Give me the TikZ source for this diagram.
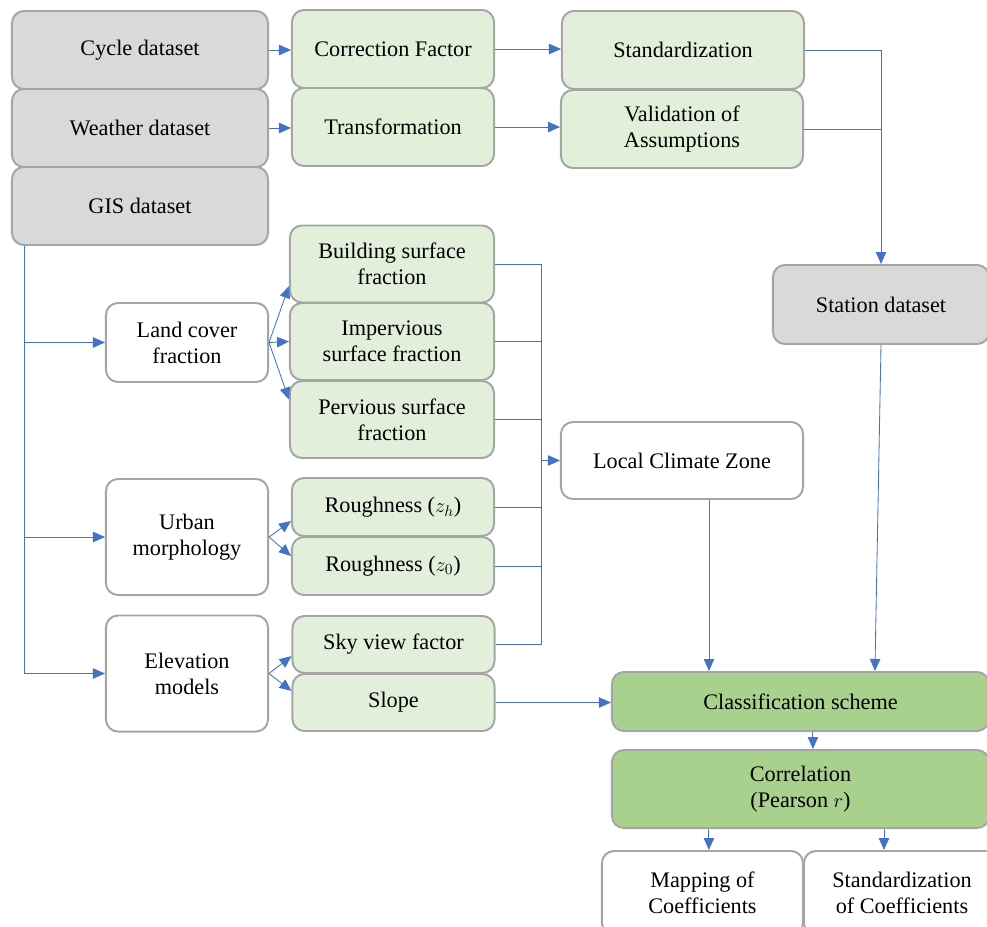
\documentclass[tikz,border=0pt]{standalone}
\usepackage{fontspec}
\setmainfont{Liberation Serif}
\usetikzlibrary{arrows.meta}
\definecolor{boxgray}{HTML}{D9D9D9}
\definecolor{lightgreen}{HTML}{E2EFDA}
\definecolor{darkgreen}{HTML}{A9D18E}
\definecolor{edgegray}{HTML}{A5A5A5}
\definecolor{linkblue}{HTML}{4472C4}

\begin{document}
\begin{tikzpicture}[x=0.025cm, y=-0.025cm,
  box/.style={draw=edgegray, line width=1.4pt, rounded corners=0.3cm, align=center,
    inner sep=2pt, font=\fontsize{15.8}{18.5}\selectfont},
  data/.style={box, fill=boxgray},
  proc/.style={box, fill=lightgreen},
  result/.style={box, fill=darkgreen},
  plain/.style={box, fill=white},
  link/.style={draw=linkblue, line width=0.6pt},
  arr/.style={link, -{Triangle[length=3mm,width=2.6mm]}}]
  \clip (0,0) rectangle (987,927);

  % input datasets
  \node[data, minimum width=6.4cm, minimum height=1.95cm] (cycle) at (140,50) {Cycle dataset};
  \node[data, minimum width=6.4cm, minimum height=1.95cm] (weather) at (140,128) {Weather dataset};
  \node[data, minimum width=6.4cm, minimum height=1.95cm] (gis) at (140,206) {GIS dataset};

  % station branch
  \node[proc, minimum width=5.05cm, minimum height=1.95cm] (corrfac) at (393,49) {Correction Factor};
  \node[proc, minimum width=5.05cm, minimum height=1.95cm] (transf) at (393,127) {Transformation};
  \node[proc, minimum width=6.05cm, minimum height=1.95cm] (standard) at (683,50) {Standardization};
  \node[proc, minimum width=6.05cm, minimum height=1.95cm] (valid) at (682,129) {Validation of\\Assumptions};
  \node[data, minimum width=5.4cm, minimum height=1.975cm] (station) at (881,304.5) {Station dataset};

  % GIS branch
  \node[plain, minimum width=4.05cm, minimum height=1.975cm] (land) at (187,342.5) {Land cover\\fraction};
  \node[plain, minimum width=4.05cm, minimum height=2.9cm] (urban) at (187,537) {Urban\\morphology};
  \node[plain, minimum width=4.05cm, minimum height=2.9cm] (elev) at (187,673.5) {Elevation\\models};

  \node[proc, minimum width=5.1cm, minimum height=1.925cm] (building) at (392,264) {Building surface\\fraction};
  \node[proc, minimum width=5.1cm, minimum height=1.925cm] (imperv) at (392,341.5) {Impervious\\surface fraction};
  \node[proc, minimum width=5.1cm, minimum height=1.925cm] (perv) at (392,419.5) {Pervious surface\\fraction};
  \node[proc, minimum width=5.05cm, minimum height=1.45cm] (rough-h) at (393,507) {Roughness ($z_h$)};
  \node[proc, minimum width=5.05cm, minimum height=1.45cm] (rough-0) at (393,566) {Roughness ($z_0$)};
  \node[proc, minimum width=5.05cm, minimum height=1.425cm] (sky) at (393.5,644.5) {Sky view factor};
  \node[proc, minimum width=5.05cm, minimum height=1.425cm] (slope) at (393.5,702.5) {Slope};

  \node[plain, minimum width=6.05cm, minimum height=1.925cm] (lcz) at (682,460.5) {Local Climate Zone};

  % analysis
  \node[result, minimum width=9.425cm, minimum height=1.475cm] (class) at (800.5,701.5) {Classification scheme};
  \node[result, minimum width=9.425cm, minimum height=1.95cm] (corr) at (800.5,789) {Correlation\\(Pearson $r$)};
  \node[plain, minimum width=5.025cm, minimum height=2.1cm] (mapping) at (702.5,893) {Mapping of\\Coefficients};
  \node[plain, minimum width=4.9cm, minimum height=2.1cm] (stdcoef) at (902,893) {Standardization\\of Coefficients};

  % station connectors
  \draw[arr] (cycle.east) -- (cycle.east -| corrfac.west);
  \draw[arr] (weather.east) -- (weather.east -| transf.west);
  \draw[arr] (corrfac.east) -- (corrfac.east -| standard.west);
  \draw[arr] (transf.east) -- (transf.east -| valid.west);
  \draw[arr] (standard.east) -| (station.north);
  \draw[link] (valid.east) -- (valid.east -| station.north);

  % GIS trunk
  \coordinate (trunk) at ([xshift=0.33cm]gis.south west);
  \draw[arr] (trunk) |- (elev.west);
  \foreach \n in {land,urban}
    \draw[arr] (trunk |- \n.west) -- (\n.west);

  % fans to the green boxes
  \foreach \src/\dst/\dy in {land/building/-0.55cm, land/imperv/0cm, land/perv/0.5cm,
      urban/rough-h/-0.35cm, urban/rough-0/0.25cm, elev/sky/-0.29cm, elev/slope/0.29cm}
    \draw[arr] (\src.east) -- ([yshift=\dy]\dst.west);

  % bus into the LCZ
  \coordinate (bus) at (541,461);
  \draw[link] (building.east) -- (building.east -| bus) |- (sky.east);
  \foreach \n in {imperv,perv,rough-h,rough-0}
    \draw[link] (\n.east) -- (\n.east -| bus);
  \draw[arr] (bus |- lcz.west) -- (lcz.west);

  % into the classification
  \coordinate (lczout) at ([xshift=0.675cm]lcz.south);
  \draw[arr] (lczout) -- (lczout |- class.north);
  \draw[arr] (station.south) -- ([xshift=1.86cm]class.north);
  \draw[arr] (slope.east) -- (slope.east -| class.west);
  \draw[arr] ([xshift=0.31cm]class.south) -- ([xshift=0.31cm]corr.north);

  % outputs
  \coordinate (mapin) at ([xshift=0.16cm]mapping.north);
  \coordinate (stdin) at ([xshift=-0.45cm]stdcoef.north);
  \draw[arr] (mapin |- corr.south) -- (mapin);
  \draw[arr] (stdin |- corr.south) -- (stdin);
\end{tikzpicture}
\end{document}
